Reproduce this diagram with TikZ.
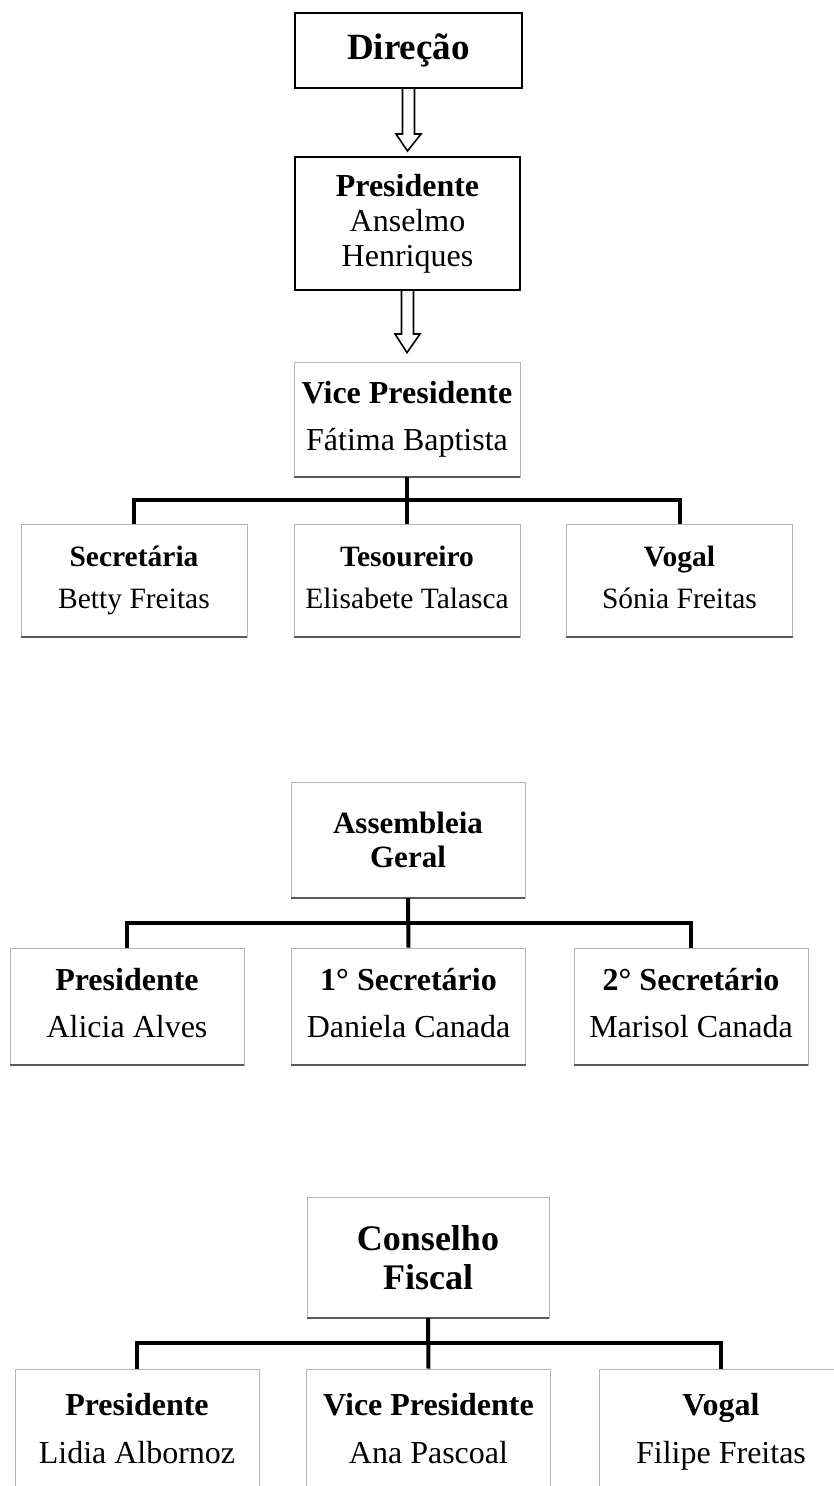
\documentclass[tikz,border=0pt]{standalone}
\usepackage{fontspec}
\setmainfont{Liberation Serif}
\usetikzlibrary{calc}
\newcommand{\orgtext}[2]{\textbf{#1}\vphantom{Ay}\\#2\vphantom{Ay}}
\newcommand{\fsz}[2]{\fontsize{#1}{#2}\selectfont}
\definecolor{boxline}{HTML}{B4B4B4}
\definecolor{boxshade}{HTML}{5A5A5A}

\begin{document}
\begin{tikzpicture}[x=1pt, y=-1pt,
    topbox/.style={draw=black, line width=2pt, align=center, inner sep=0pt},
    orgbox/.style={draw=boxline, line width=0.8pt, align=center, inner sep=0pt},
    shadeline/.style={draw=boxshade, line width=2pt},
    branch/.style={line width=4pt},
    hollow/.style={draw=black, line width=1.6pt}]
      \useasboundingbox (0,0) rectangle (833,1486);

      % direcao
      \node[topbox, minimum width=227, minimum height=75, font=\fsz{37}{40}] (dir) at (408.5,50.5) {\textbf{Direção}};
      \node[topbox, minimum width=225, minimum height=133, font=\fsz{32}{35}] (pres) at (407.5,223.5) {\orgtext{Presidente}{Anselmo\\Henriques}};
      \node[orgbox, minimum width=226, minimum height=115, font=\fsz{32}{47}] (vp) at (407,419.5) {\orgtext{Vice Presidente}{Fátima Baptista}};
      \begin{scope}[every node/.style={orgbox, minimum width=226, minimum height=113, font=\fsz{29.5}{42}}]
      \node (sec) at (134,580.5) {\orgtext{Secretária}{Betty Freitas}};
      \node (tes) at (407,580.5) {\orgtext{Tesoureiro}{Elisabete Talasca}};
      \node (vog) at (679.5,580.5) {\orgtext{Vogal}{Sónia Freitas}};
      \end{scope}

      % hollow arrows
      \draw[hollow] ($(dir.south)+(-6,0)$) -- ++(0,45) -- ++(-6.5,0) -- ($(pres.north)+(0,-5)$)
        -- ($(dir.south)+(12.5,45)$) -- ++(-6.5,0) -- ($(dir.south)+(6,0)$);
      \draw[hollow] ($(pres.south)+(-6,0)$) -- ++(0,43) -- ++(-6.5,0) -- ($(vp.north)+(0,-9)$)
        -- ($(pres.south)+(12.5,43)$) -- ++(-6.5,0) -- ($(pres.south)+(6,0)$);

      % assembleia geral
      \node[orgbox, minimum width=234, minimum height=116, font=\fsz{31}{34}] (ag) at (408,840) {\textbf{Assembleia}\\\textbf{Geral}};
      \begin{scope}[every node/.style={orgbox, minimum width=234, minimum height=117, font=\fsz{32}{47}}]
      \node (agp) at (127,1006.5) {\orgtext{Presidente}{Alicia Alves}};
      \node (ags1) at (408.5,1006.5) {\orgtext{1° Secretário}{Daniela Canada}};
      \node (ags2) at (691,1006.5) {\orgtext{2° Secretário}{Marisol Canada}};
      \end{scope}

      % conselho fiscal
      \node[orgbox, minimum width=242, minimum height=121, font=\fsz{36}{39}] (cf) at (428,1257.5) {\textbf{Conselho}\\\textbf{Fiscal}};
      \begin{scope}[every node/.style={orgbox, minimum width=244, minimum height=126, font=\fsz{32}{48}}]
      \node (cfp) at (137,1432) {\orgtext{Presidente}{Lidia Albornoz}};
      \node (cfv) at (428.5,1432) {\orgtext{Vice Presidente}{Ana Pascoal}};
      \node (cfg) at (721,1432) {\orgtext{Vogal}{Filipe Freitas}};
      \end{scope}

      % box shadows
      \foreach \n in {vp,sec,tes,vog,ag,agp,ags1,ags2,cf}
        \draw[shadeline] (\n.south west) -- (\n.south east);

      % branches
      \draw[branch] (vp.south) -- ++(0,23) -| (sec.north);
      \draw[branch] (vp.south) -- ++(0,23) -| (vog.north);
      \draw[branch] (vp.south) -- (tes.north);
      \draw[branch] (ag.south) -- ++(0,25) -| (agp.north);
      \draw[branch] (ag.south) -- ++(0,25) -| (ags2.north);
      \draw[branch] (ag.south) -- (ags1.north);
      \draw[branch] (cf.south) -- ++(0,25) -| (cfp.north);
      \draw[branch] (cf.south) -- ++(0,25) -| (cfg.north);
      \draw[branch] (cf.south) -- (cfv.north);
    \end{tikzpicture}
\end{document}
